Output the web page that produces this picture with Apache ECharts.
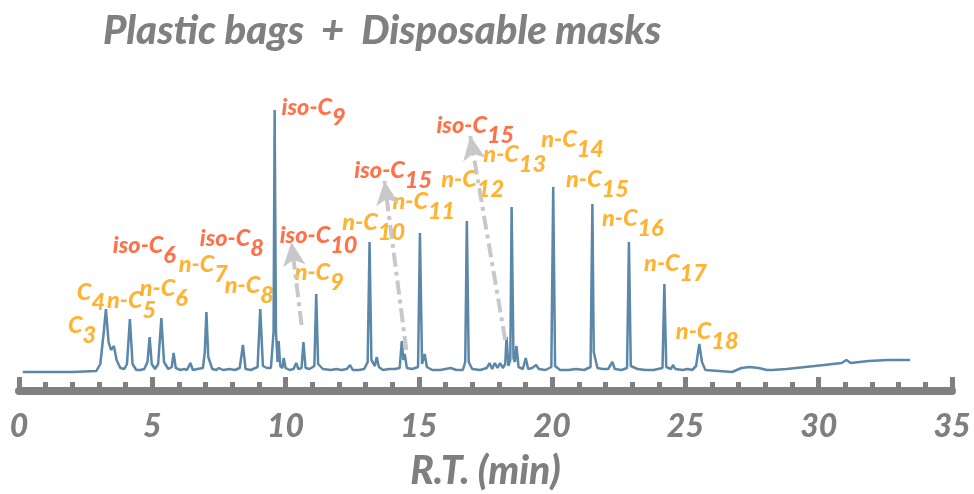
<!DOCTYPE html>
<html>
<head>
<meta charset="utf-8">
<script src="https://cdn.jsdelivr.net/npm/echarts@6/dist/echarts.min.js"></script>
<style>
  html, body { margin: 0; padding: 0; background: #fff; }
  #chart { width: 974px; height: 494px; }
</style>
</head>
<body>
<div id="chart"></div>
<script>
// retention time (min) and detector signal (a.u.)
var rt = [
  0.14, 1.0, 2.0, 2.9, 3.05, 3.18, 3.26, 3.36, 3.45, 3.56, 3.66, 3.80, 3.95, 4.05, 4.16, 4.26, 4.40, 4.55, 4.70, 4.82,
  4.90, 4.98, 5.10, 5.22, 5.34, 5.44, 5.60, 5.73, 5.80, 5.88, 6.05, 6.20, 6.30, 6.43, 6.52, 6.70, 6.90, 6.97, 7.03, 7.10,
  7.25, 7.40, 7.50, 7.57, 7.65, 7.90, 8.10, 8.28, 8.40, 8.50, 8.70, 8.95, 9.05, 9.15, 9.30, 9.45, 9.55, 9.59, 9.64, 9.70,
  9.74, 9.80, 9.88, 9.93, 10.0, 10.15, 10.30, 10.40, 10.48, 10.60, 10.67, 10.75, 10.90, 11.08, 11.15, 11.22, 11.40, 11.70, 11.90, 12.10,
  12.30, 12.42, 12.52, 12.75, 12.95, 13.08, 13.15, 13.22, 13.35, 13.42, 13.50, 13.65, 13.90, 14.10, 14.28, 14.36, 14.42, 14.47, 14.55, 14.75,
  14.97, 15.04, 15.12, 15.22, 15.30, 15.50, 15.80, 16.00, 16.20, 16.40, 16.65, 16.74, 16.80, 16.87, 17.00, 17.30, 17.55, 17.65, 17.75, 17.85,
  17.95, 18.05, 18.15, 18.24, 18.29, 18.36, 18.43, 18.48, 18.55, 18.60, 18.66, 18.74, 18.90, 19.01, 19.10, 19.25, 19.40, 19.50, 19.75, 19.97,
  20.04, 20.11, 20.30, 20.60, 20.90, 21.20, 21.44, 21.51, 21.56, 21.60, 21.70, 21.90, 22.10, 22.26, 22.35, 22.60, 22.81, 22.88, 22.95, 23.20,
  23.50, 23.80, 24.14, 24.21, 24.28, 24.45, 24.54, 24.62, 24.90, 25.08, 25.15, 25.25, 25.40, 25.52, 25.62, 25.75, 26.25, 26.75, 27.10, 27.40,
  27.75, 28.05, 28.25, 28.80, 29.50, 30.20, 30.86, 31.04, 31.20, 31.87, 32.60, 33.43
];
var signal = [
  0, 0, 0, 1, 8, 40, 63, 30, 22, 26, 12, 4, 3, 8, 53, 8, 2, 2, 3, 10,
  35, 8, 3, 8, 54, 10, 3, 5, 19, 4, 2, 3, 2, 9, 2, 3, 4, 20, 60, 15,
  3, 2, 4, 6, 2, 3, 2, 4, 27, 3, 2, 5, 63, 6, 4, 4, 40, 262, 40, 10,
  31, 6, 4, 14, 4, 2, 3, 9, 3, 4, 30, 4, 3, 6, 78, 8, 3, 2, 3, 2,
  3, 7, 2, 2, 3, 10, 130, 12, 6, 15, 5, 2, 3, 3, 4, 31, 12, 18, 4, 3,
  5, 139, 8, 18, 5, 2, 2, 3, 4, 2, 2, 10, 151, 10, 3, 2, 4, 9, 3, 9,
  4, 9, 4, 8, 35, 6, 12, 165, 14, 10, 26, 5, 3, 14, 3, 4, 7, 3, 2, 5,
  185, 6, 2, 2, 3, 2, 5, 168, 20, 18, 4, 3, 3, 10, 3, 2, 4, 130, 6, 3,
  2, 2, 4, 88, 5, 3, 7, 3, 2, 3, 5, 2, 6, 28, 10, 2, 1, 0, 4, 5,
  4, 2, 2, 3, 5, 7, 9, 12, 9, 11, 12, 12
];

// x axis
var rtMin = 0;
var rtMax = 35;
var rtStep = 5;

// peak annotations: text, subscript, kind (n = orange, iso = red), anchor (rt, signal) of label top-left
var peakText = ['C', 'C', 'n-C', 'n-C', 'n-C', 'n-C', 'iso-C', 'iso-C', 'iso-C', 'iso-C', 'n-C', 'n-C',
  'iso-C', 'n-C', 'n-C', 'iso-C', 'n-C', 'n-C', 'n-C', 'n-C', 'n-C', 'n-C'];
var peakSub = ['3', '4', '5', '6', '7', '8', '6', '8', '9', '10', '9', '10',
  '15', '11', '12', '15', '13', '14', '15', '16', '17', '18'];
var peakKind = ['n', 'n', 'n', 'n', 'n', 'n', 'iso', 'iso', 'iso', 'iso', 'n', 'n',
  'iso', 'n', 'n', 'iso', 'n', 'n', 'n', 'n', 'n', 'n'];
var labelRt = [1.84, 2.17, 3.30, 4.53, 5.99, 7.72, 3.52, 6.78, 9.85, 9.78, 10.34, 12.13,
  12.58, 14.01, 15.84, 15.66, 17.42, 19.59, 20.52, 21.87, 23.45, 24.64];
var labelSignal = [59, 92, 84, 96, 120, 99, 139, 146, 277, 149, 112, 162,
  214, 183, 205, 259, 230, 245, 205, 166, 121, 53];

// dash-dot arrows (from -> to)
var arrowFrom = [[10.60, 47], [14.53, 22], [18.24, 32]];
var arrowTo = [[10.22, 130], [13.71, 191], [16.93, 236]];

var chart = echarts.init(document.getElementById('chart'));

var font = 'Lato';
var orange = '#ffa000';
var red = '#ff4e1c';
var grey = '#7f7f7f';

function tokenStyle(color, sub) {
  var s = {
    color: color,
    fontSize: 23.5,
    fontWeight: 900,
    fontStyle: 'italic',
    fontFamily: font,
    height: 24
  };
  if (sub) {
    s.lineHeight = 34;
    s.verticalAlign = 'bottom';
  } else {
    s.verticalAlign = 'top';
  }
  return s;
}

var labelData = labelRt.map(function (t, i) {
  var k = peakKind[i] === 'iso' ? 'r' : 'o';
  return {
    value: [t, labelSignal[i]],
    label: { formatter: '{' + k + '|' + peakText[i] + '}{' + k + 's|' + peakSub[i] + '}' }
  };
});

chart.setOption({
  animation: false,
  title: {
    text: 'Plastic bags  +  Disposable masks',
    left: 98,
    top: 6,
    textStyle: {
      color: '#808080',
      fontSize: 40,
      fontWeight: 900,
      fontStyle: 'italic',
      fontFamily: font
    }
  },
  grid: {
    left: 19,
    right: 22,
    top: 0,
    bottom: 103,
    outerBoundsMode: 'none'
  },
  xAxis: {
    type: 'value',
    min: rtMin,
    max: rtMax,
    interval: rtStep,
    axisLine: {
      onZero: false,
      lineStyle: { color: '#808080', width: 8 }
    },
    axisTick: {
      show: true,
      inside: true,
      length: 14,
      lineStyle: { color: '#808080', width: 5 }
    },
    minorTick: {
      show: true,
      splitNumber: 5,
      length: 9,
      lineStyle: { color: '#808080', width: 5 }
    },
    splitLine: { show: false },
    axisLabel: {
      color: grey,
      fontSize: 32,
      fontWeight: 900,
      fontStyle: 'italic',
      fontFamily: font,
      margin: 20
    },
    name: 'R.T. (min)',
    nameLocation: 'middle',
    nameGap: 61,
    nameTextStyle: {
      color: grey,
      fontSize: 39,
      fontWeight: 900,
      fontStyle: 'italic',
      fontFamily: font
    }
  },
  yAxis: {
    type: 'value',
    min: -19,
    max: 372,
    show: false
  },
  series: [
    {
      type: 'line',
      data: rt.map(function (t, i) { return [t, signal[i]]; }),
      showSymbol: false,
      smooth: false,
      lineStyle: { color: '#5b87a9', width: 2.5 },
      markLine: {
        silent: true,
        symbol: ['none', 'arrow'],
        symbolSize: [17, 24],
        label: { show: false },
        lineStyle: { color: '#c8c8c8', width: 4, type: [14, 5, 4, 5] },
        data: arrowFrom.map(function (p, i) {
          return [{ coord: p }, { coord: arrowTo[i] }];
        })
      }
    },
    {
      type: 'scatter',
      symbolSize: 0,
      silent: true,
      data: labelData,
      label: {
        show: true,
        position: [0, 0],
        align: 'left',
        verticalAlign: 'top',
        rich: {
          o: tokenStyle(orange, false),
          os: tokenStyle(orange, true),
          r: tokenStyle(red, false),
          rs: tokenStyle(red, true)
        }
      }
    }
  ]
});
</script>
</body>
</html>
